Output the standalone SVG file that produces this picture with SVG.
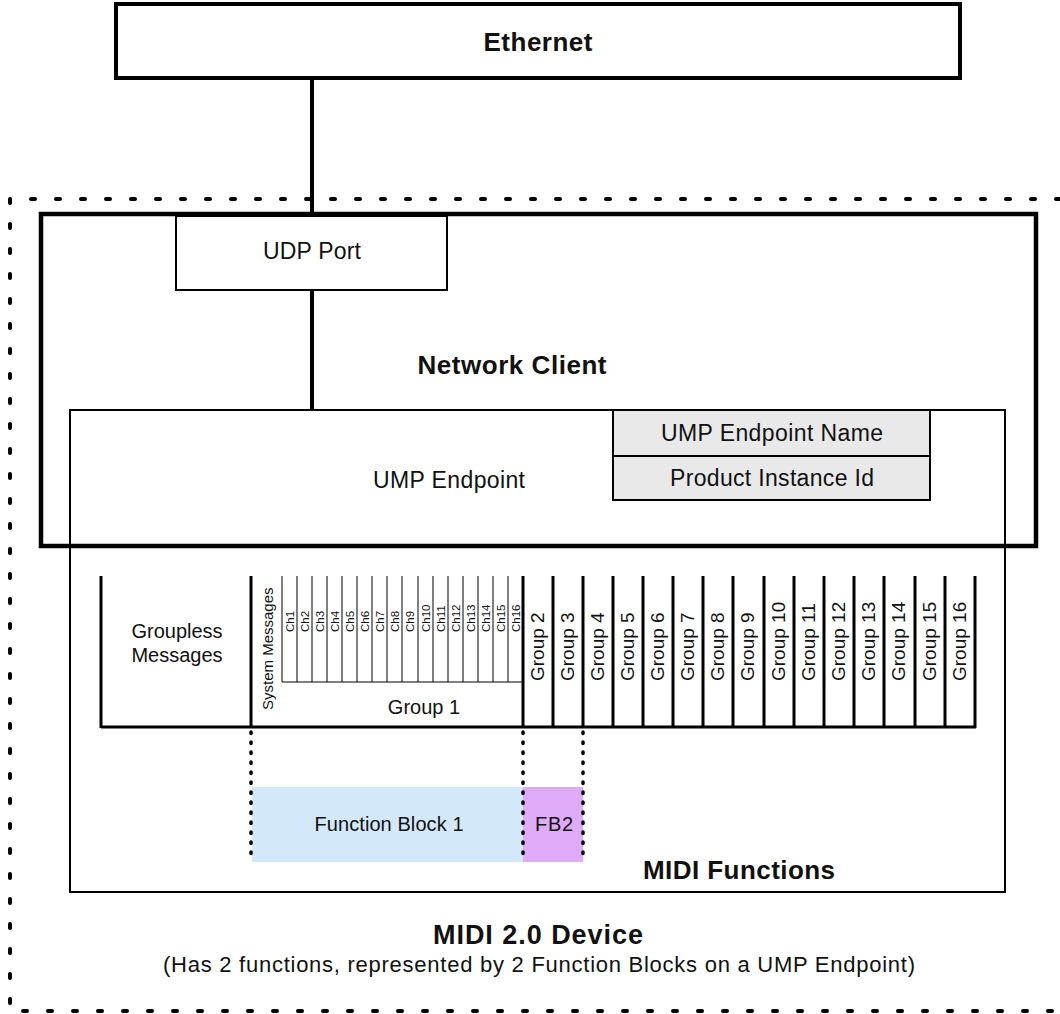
<svg xmlns="http://www.w3.org/2000/svg" width="1060" height="1014" viewBox="0 0 1060 1014">
<style>
  text { font-family: "Liberation Sans", Arial, sans-serif; fill: #111; }
  .b { font-weight: bold; font-size: 26px; text-anchor: middle; }
  .r { font-size: 23px; text-anchor: middle; }
  .m { font-size: 20px; text-anchor: middle; }
  .g { font-size: 19px; }
  .sm { font-size: 15px; }
  .ch { font-size: 11.5px; }
  .box { fill: none; stroke: #000; }
  .thick { stroke: #000; stroke-width: 3; }
  .thin { stroke: #000; stroke-width: 1; }
  .dot { stroke: #000; stroke-width: 3.5; stroke-linecap: round; stroke-dasharray: 1.5 8.5; fill: none; }
  .outer { stroke: #000; stroke-width: 4; stroke-linecap: round; stroke-dasharray: 4 21; fill: none; }
</style>
<rect width="1060" height="1014" fill="#fff"/>

<g id="midi-device">
  <path class="outer" d="M1060 199 H10 V1011 H1060"/>
  <text class="b" x="538" y="944" style="font-size:27px" textLength="210">MIDI 2.0 Device</text>
  <text class="m" x="539" y="972" style="font-size:22px" textLength="752">(Has 2 functions, represented by 2 Function Blocks on a UMP Endpoint)</text>
</g>

<g id="ethernet">
  <rect class="box" x="116" y="4" width="844" height="74" stroke-width="4" fill="#fff"/>
  <text class="b" x="538" y="51" textLength="109">Ethernet</text>
</g>

<g id="ump-endpoint">
  <rect class="box" x="70" y="410" width="935" height="482" stroke-width="2"/>
  <text class="r" x="449" y="488" textLength="152">UMP Endpoint</text>
  <text class="b" x="739" y="879" textLength="192">MIDI Functions</text>
</g>

<g id="network-client">
  <rect class="box" x="41" y="214" width="995" height="332" stroke-width="4.5"/>
  <text class="b" x="512" y="374" textLength="189">Network Client</text>
</g>

<g id="udp-port">
  <rect x="176" y="216" width="271" height="74" fill="#fff" stroke="#000" stroke-width="2"/>
  <text class="r" x="312" y="259" textLength="98">UDP Port</text>
</g>

<g id="endpoint-name">
  <rect x="613" y="410" width="317" height="46" fill="#e9e9e9" stroke="#000" stroke-width="2"/>
  <text class="r" x="772" y="441" textLength="222">UMP Endpoint Name</text>
</g>
<g id="product-instance-id">
  <rect x="613" y="456" width="317" height="44" fill="#e9e9e9" stroke="#000" stroke-width="2"/>
  <text class="r" x="772" y="486" textLength="204">Product Instance Id</text>
</g>

<g id="function-block-1">
  <rect x="252" y="787" width="271" height="75" fill="#d3e8fa"/>
  <text class="m" x="389" y="831" textLength="149">Function Block 1</text>
</g>
<g id="function-block-2">
  <rect x="523" y="787" width="60" height="75" fill="#dfaaf7"/>
  <text class="m" x="554" y="831" textLength="38">FB2</text>
</g>

<g id="groups">
  <line class="thick" x1="101" y1="727" x2="976" y2="727"/>
  <line class="thick" x1="101" y1="576" x2="101" y2="728"/>
  <line class="thick" x1="251" y1="576" x2="251" y2="728"/>
  <line class="thick" x1="523" y1="576" x2="523" y2="728"/>
  <line class="thick" x1="553" y1="576" x2="553" y2="728"/>
  <line class="thick" x1="583" y1="576" x2="583" y2="728"/>
  <line class="thick" x1="613" y1="576" x2="613" y2="728"/>
  <line class="thick" x1="643" y1="576" x2="643" y2="728"/>
  <line class="thick" x1="673" y1="576" x2="673" y2="728"/>
  <line class="thick" x1="703" y1="576" x2="703" y2="728"/>
  <line class="thick" x1="733" y1="576" x2="733" y2="728"/>
  <line class="thick" x1="764" y1="576" x2="764" y2="728"/>
  <line class="thick" x1="794" y1="576" x2="794" y2="728"/>
  <line class="thick" x1="824" y1="576" x2="824" y2="728"/>
  <line class="thick" x1="854" y1="576" x2="854" y2="728"/>
  <line class="thick" x1="884" y1="576" x2="884" y2="728"/>
  <line class="thick" x1="915" y1="576" x2="915" y2="728"/>
  <line class="thick" x1="945" y1="576" x2="945" y2="728"/>
  <line class="thick" x1="975" y1="576" x2="975" y2="728"/>

  <line class="thin" x1="282" y1="682" x2="523" y2="682"/>
  <line class="thin" x1="282" y1="576" x2="282" y2="682"/>
  <line class="thin" x1="297" y1="576" x2="297" y2="682"/>
  <line class="thin" x1="312" y1="576" x2="312" y2="682"/>
  <line class="thin" x1="327" y1="576" x2="327" y2="682"/>
  <line class="thin" x1="342" y1="576" x2="342" y2="682"/>
  <line class="thin" x1="357" y1="576" x2="357" y2="682"/>
  <line class="thin" x1="372" y1="576" x2="372" y2="682"/>
  <line class="thin" x1="387" y1="576" x2="387" y2="682"/>
  <line class="thin" x1="402" y1="576" x2="402" y2="682"/>
  <line class="thin" x1="418" y1="576" x2="418" y2="682"/>
  <line class="thin" x1="433" y1="576" x2="433" y2="682"/>
  <line class="thin" x1="448" y1="576" x2="448" y2="682"/>
  <line class="thin" x1="463" y1="576" x2="463" y2="682"/>
  <line class="thin" x1="478" y1="576" x2="478" y2="682"/>
  <line class="thin" x1="493" y1="576" x2="493" y2="682"/>
  <line class="thin" x1="508" y1="576" x2="508" y2="682"/>

  <text class="m" x="177" y="638">Groupless</text>
  <text class="m" x="177" y="662">Messages</text>
  <text class="sm" transform="translate(273 710) rotate(-90)">System Messages</text>
  <text class="m" x="424" y="714">Group 1</text>

  <text class="ch" transform="translate(294 632) rotate(-90)">Ch1</text>
  <text class="ch" transform="translate(309 632) rotate(-90)">Ch2</text>
  <text class="ch" transform="translate(324 632) rotate(-90)">Ch3</text>
  <text class="ch" transform="translate(339 632) rotate(-90)">Ch4</text>
  <text class="ch" transform="translate(354 632) rotate(-90)">Ch5</text>
  <text class="ch" transform="translate(369 632) rotate(-90)">Ch6</text>
  <text class="ch" transform="translate(384 632) rotate(-90)">Ch7</text>
  <text class="ch" transform="translate(399 632) rotate(-90)">Ch8</text>
  <text class="ch" transform="translate(414 632) rotate(-90)">Ch9</text>
  <text class="ch" transform="translate(430 632) rotate(-90)">Ch10</text>
  <text class="ch" transform="translate(445 632) rotate(-90)">Ch11</text>
  <text class="ch" transform="translate(460 632) rotate(-90)">Ch12</text>
  <text class="ch" transform="translate(475 632) rotate(-90)">Ch13</text>
  <text class="ch" transform="translate(490 632) rotate(-90)">Ch14</text>
  <text class="ch" transform="translate(505 632) rotate(-90)">Ch15</text>
  <text class="ch" transform="translate(520 632) rotate(-90)">Ch16</text>

  <text class="g" transform="translate(544 681) rotate(-90)">Group 2</text>
  <text class="g" transform="translate(574 681) rotate(-90)">Group 3</text>
  <text class="g" transform="translate(604 681) rotate(-90)">Group 4</text>
  <text class="g" transform="translate(634 681) rotate(-90)">Group 5</text>
  <text class="g" transform="translate(664 681) rotate(-90)">Group 6</text>
  <text class="g" transform="translate(694 681) rotate(-90)">Group 7</text>
  <text class="g" transform="translate(724 681) rotate(-90)">Group 8</text>
  <text class="g" transform="translate(754 681) rotate(-90)">Group 9</text>
  <text class="g" transform="translate(785 681) rotate(-90)">Group 10</text>
  <text class="g" transform="translate(815 681) rotate(-90)">Group 11</text>
  <text class="g" transform="translate(845 681) rotate(-90)">Group 12</text>
  <text class="g" transform="translate(875 681) rotate(-90)">Group 13</text>
  <text class="g" transform="translate(905 681) rotate(-90)">Group 14</text>
  <text class="g" transform="translate(936 681) rotate(-90)">Group 15</text>
  <text class="g" transform="translate(966 681) rotate(-90)">Group 16</text>
</g>

<g id="connectors">
  <line x1="312" y1="78" x2="312" y2="216" stroke="#000" stroke-width="4"/>
  <line x1="312" y1="290" x2="312" y2="410" stroke="#000" stroke-width="4"/>
  <line class="dot" x1="251" y1="732" x2="251" y2="862"/>
  <line class="dot" x1="523" y1="732" x2="523" y2="862"/>
  <line class="dot" x1="583" y1="732" x2="583" y2="862"/>
</g>
</svg>
